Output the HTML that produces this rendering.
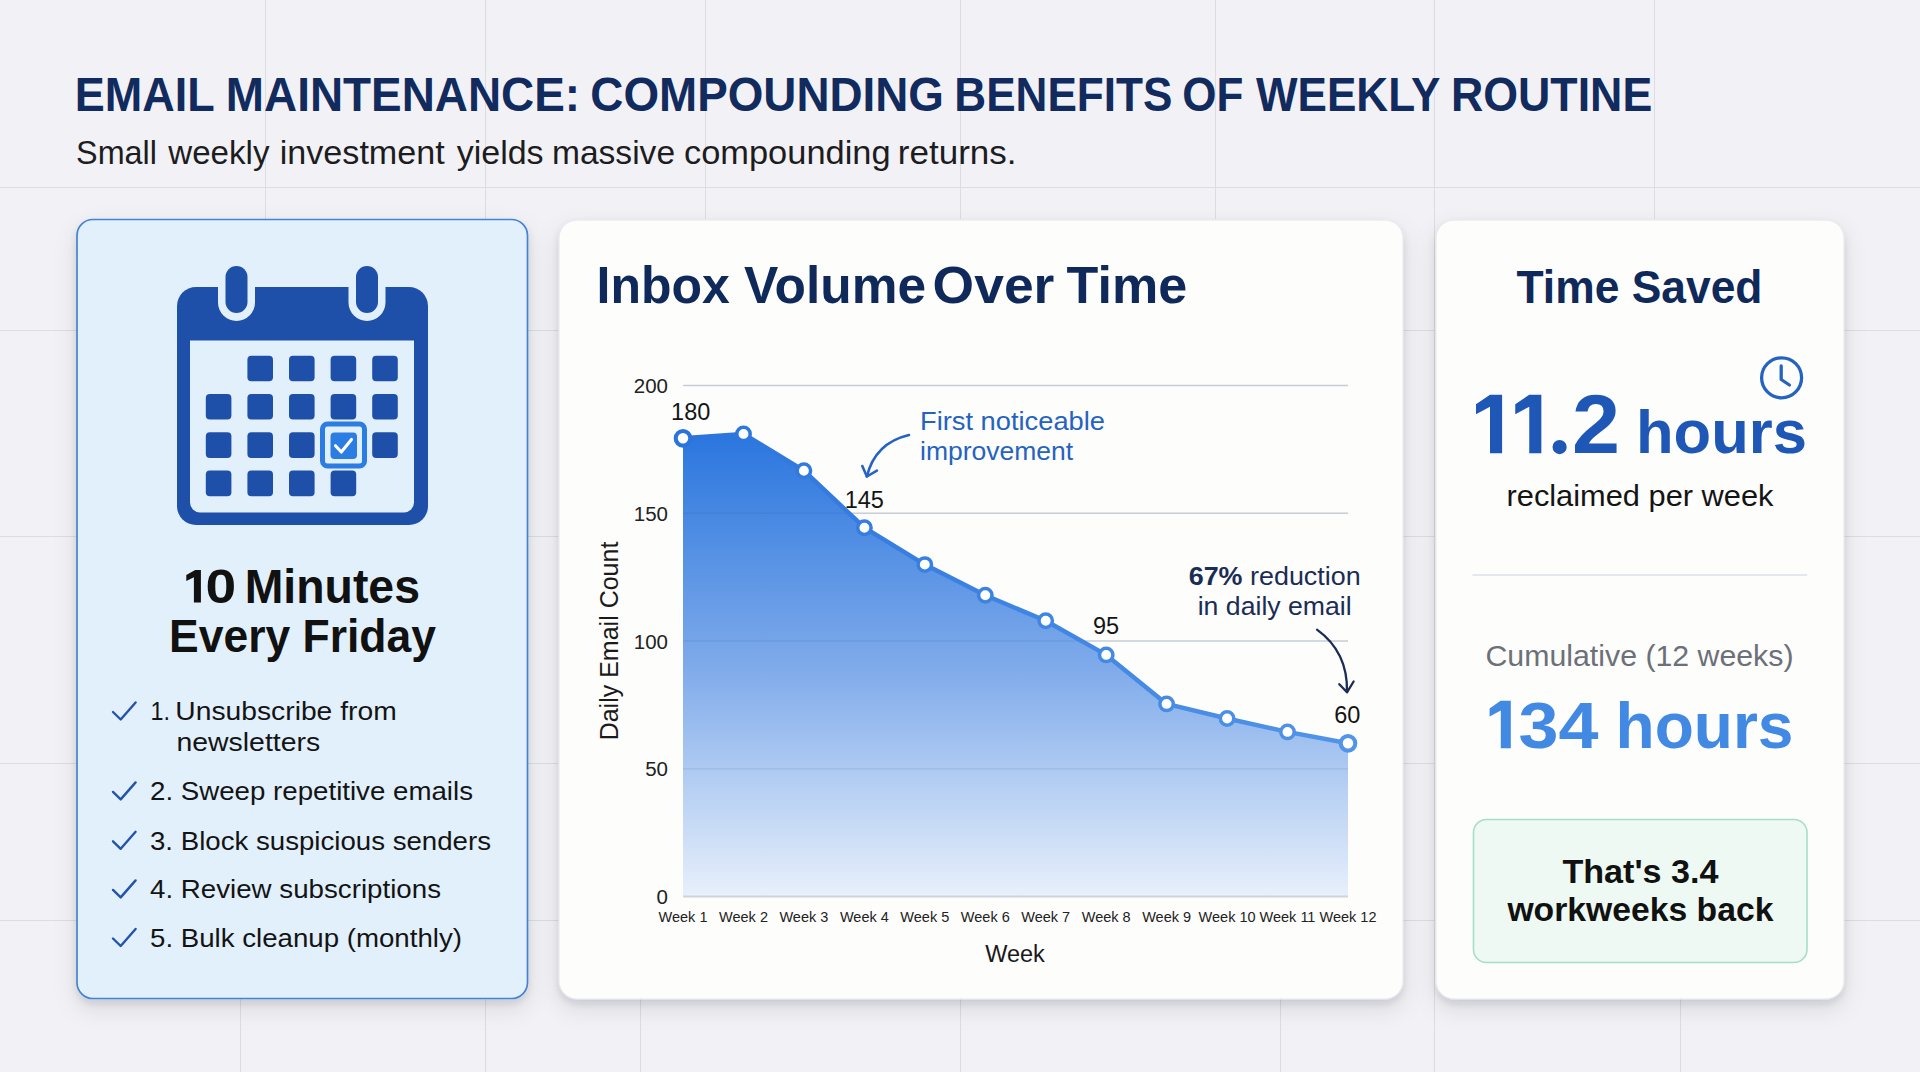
<!DOCTYPE html>
<html><head><meta charset="utf-8"><title>Email Maintenance</title>
<style>
html,body{margin:0;padding:0;background:#f2f2f6;}
body{width:1920px;height:1072px;overflow:hidden;}
svg{display:block;font-family:"Liberation Sans", sans-serif;}
</style></head><body>
<svg width="1920" height="1072" viewBox="0 0 1920 1072">
<rect width="1920" height="1072" fill="#f2f2f6"/>
<g stroke="#dcdde3" stroke-width="1"><line x1="0" y1="187.5" x2="1920" y2="187.5"/><line x1="0" y1="330.5" x2="1920" y2="330.5"/><line x1="0" y1="536.5" x2="1920" y2="536.5"/><line x1="0" y1="763.5" x2="1920" y2="763.5"/><line x1="0" y1="920.5" x2="1920" y2="920.5"/><line x1="265.5" y1="0" x2="265.5" y2="219"/><line x1="485.5" y1="0" x2="485.5" y2="219"/><line x1="705.5" y1="0" x2="705.5" y2="219"/><line x1="960.5" y1="0" x2="960.5" y2="219"/><line x1="1215.5" y1="0" x2="1215.5" y2="219"/><line x1="1654.5" y1="0" x2="1654.5" y2="219"/><line x1="1434.5" y1="0" x2="1434.5" y2="1072"/><line x1="240.5" y1="999" x2="240.5" y2="1072"/><line x1="485.5" y1="999" x2="485.5" y2="1072"/><line x1="640.5" y1="999" x2="640.5" y2="1072"/><line x1="960.5" y1="999" x2="960.5" y2="1072"/><line x1="1280.5" y1="999" x2="1280.5" y2="1072"/><line x1="1434.5" y1="999" x2="1434.5" y2="1072"/><line x1="1680.5" y1="999" x2="1680.5" y2="1072"/></g>
<text x="74.86" y="111.3" font-size="47.5" fill="#112b5e" font-weight="bold" text-anchor="start" textLength="139.97" lengthAdjust="spacingAndGlyphs" >EMAIL</text>
<text x="225.8" y="111.3" font-size="47.5" fill="#112b5e" font-weight="bold" text-anchor="start" textLength="354.35" lengthAdjust="spacingAndGlyphs" >MAINTENANCE:</text>
<text x="590.37" y="111.3" font-size="47.5" fill="#112b5e" font-weight="bold" text-anchor="start" textLength="353.59" lengthAdjust="spacingAndGlyphs" >COMPOUNDING</text>
<text x="954.32" y="111.3" font-size="47.5" fill="#112b5e" font-weight="bold" text-anchor="start" textLength="218.04" lengthAdjust="spacingAndGlyphs" >BENEFITS</text>
<text x="1182.35" y="111.3" font-size="47.5" fill="#112b5e" font-weight="bold" text-anchor="start" textLength="61.05" lengthAdjust="spacingAndGlyphs" >OF</text>
<text x="1256.0" y="111.3" font-size="47.5" fill="#112b5e" font-weight="bold" text-anchor="start" textLength="184.38" lengthAdjust="spacingAndGlyphs" >WEEKLY</text>
<text x="1450.92" y="111.3" font-size="47.5" fill="#112b5e" font-weight="bold" text-anchor="start" textLength="201.32" lengthAdjust="spacingAndGlyphs" >ROUTINE</text>
<text x="76.12" y="164" font-size="33" fill="#1d1d1f" font-weight="normal" text-anchor="start" textLength="80.88" lengthAdjust="spacingAndGlyphs" >Small</text>
<text x="168.3" y="164" font-size="33" fill="#1d1d1f" font-weight="normal" text-anchor="start" textLength="101.17" lengthAdjust="spacingAndGlyphs" >weekly</text>
<text x="279.73" y="164" font-size="33" fill="#1d1d1f" font-weight="normal" text-anchor="start" textLength="165.03" lengthAdjust="spacingAndGlyphs" >investment</text>
<text x="456.7" y="164" font-size="33" fill="#1d1d1f" font-weight="normal" text-anchor="start" textLength="86.92" lengthAdjust="spacingAndGlyphs" >yields</text>
<text x="551.97" y="164" font-size="33" fill="#1d1d1f" font-weight="normal" text-anchor="start" textLength="123.08" lengthAdjust="spacingAndGlyphs" >massive</text>
<text x="683.96" y="164" font-size="33" fill="#1d1d1f" font-weight="normal" text-anchor="start" textLength="206.69" lengthAdjust="spacingAndGlyphs" >compounding</text>
<text x="897.78" y="164" font-size="33" fill="#1d1d1f" font-weight="normal" text-anchor="start" textLength="118.78" lengthAdjust="spacingAndGlyphs" >returns.</text>
<defs>
<filter id="sh" x="-20%" y="-20%" width="140%" height="140%">
<feDropShadow dx="0" dy="4" stdDeviation="4" flood-color="#1a2035" flood-opacity="0.10" result="s1"/><feDropShadow in="s1" dx="0" dy="9" stdDeviation="11" flood-color="#1a2035" flood-opacity="0.10"/>
</filter>
<linearGradient id="area" x1="0" y1="0" x2="0" y2="1" gradientUnits="objectBoundingBox">
<stop offset="0" stop-color="#2a76de"/>
<stop offset="0.5" stop-color="#7eaaea"/>
<stop offset="1" stop-color="#e8f0fb"/>
</linearGradient>
<linearGradient id="lineg" x1="683" y1="0" x2="1348" y2="0" gradientUnits="userSpaceOnUse">
<stop offset="0" stop-color="#2a74dc"/>
<stop offset="1" stop-color="#5294e8"/>
</linearGradient>
</defs>
<rect x="77" y="219.5" width="450.5" height="779" rx="16" fill="#e2f0fc" stroke="#4483d2" stroke-width="1.7" filter="url(#sh)"/>
<rect x="559" y="220" width="844" height="779" rx="18" fill="#fdfdfc" stroke="#e4e6eb" stroke-width="1" filter="url(#sh)"/>
<rect x="1436" y="220" width="408" height="779" rx="18" fill="#fdfdfc" stroke="#e4e6eb" stroke-width="1" filter="url(#sh)"/>
<g><path d="M177 306 a19 19 0 0 1 19 -19 h213 a19 19 0 0 1 19 19 v200 a19 19 0 0 1 -19 19 h-213 a19 19 0 0 1 -19 -19 z" fill="#1f50a9"/><path d="M190 340.5 h224 v162 a10 10 0 0 1 -10 10 h-204 a10 10 0 0 1 -10 -10 z" fill="#e2f0fc"/><rect x="218.0" y="262" width="37" height="59" rx="18.5" fill="#e2f0fc"/><rect x="225.5" y="266" width="22" height="47" rx="11" fill="#1f50a9"/><rect x="348.5" y="262" width="37" height="59" rx="18.5" fill="#e2f0fc"/><rect x="356" y="266" width="22" height="47" rx="11" fill="#1f50a9"/><rect x="247.4" y="355.7" width="25.6" height="25.6" rx="4" fill="#1f50a9"/><rect x="289.0" y="355.7" width="25.6" height="25.6" rx="4" fill="#1f50a9"/><rect x="330.6" y="355.7" width="25.6" height="25.6" rx="4" fill="#1f50a9"/><rect x="372.2" y="355.7" width="25.6" height="25.6" rx="4" fill="#1f50a9"/><rect x="205.8" y="394.0" width="25.6" height="25.6" rx="4" fill="#1f50a9"/><rect x="247.4" y="394.0" width="25.6" height="25.6" rx="4" fill="#1f50a9"/><rect x="289.0" y="394.0" width="25.6" height="25.6" rx="4" fill="#1f50a9"/><rect x="330.6" y="394.0" width="25.6" height="25.6" rx="4" fill="#1f50a9"/><rect x="372.2" y="394.0" width="25.6" height="25.6" rx="4" fill="#1f50a9"/><rect x="205.8" y="432.3" width="25.6" height="25.6" rx="4" fill="#1f50a9"/><rect x="247.4" y="432.3" width="25.6" height="25.6" rx="4" fill="#1f50a9"/><rect x="289.0" y="432.3" width="25.6" height="25.6" rx="4" fill="#1f50a9"/><rect x="372.2" y="432.3" width="25.6" height="25.6" rx="4" fill="#1f50a9"/><rect x="205.8" y="470.6" width="25.6" height="25.6" rx="4" fill="#1f50a9"/><rect x="247.4" y="470.6" width="25.6" height="25.6" rx="4" fill="#1f50a9"/><rect x="289.0" y="470.6" width="25.6" height="25.6" rx="4" fill="#1f50a9"/><rect x="330.6" y="470.6" width="25.6" height="25.6" rx="4" fill="#1f50a9"/><rect x="322.5" y="424" width="42" height="42" rx="5" fill="#e2f0fc" stroke="#2b7de3" stroke-width="5"/><rect x="330.5" y="432.5" width="26.5" height="26.5" rx="4" fill="#2b7de3"/><path d="M335.5 445.7 L341.3 452 L351.5 439.5" fill="none" stroke="#fff" stroke-width="3.1" stroke-linecap="round" stroke-linejoin="round"/></g>
<path d="M194 569.9 L200.9 569.9 L200.9 602.5 L193.9 602.5 L193.9 577.2 L186.3 580.9 L186.3 575 L195.2 569.9 Z" fill="#111"/>
<text x="205.5" y="602.6" font-size="47.5" fill="#111" font-weight="bold" text-anchor="start" textLength="30.7" lengthAdjust="spacingAndGlyphs" >0</text>
<text x="244.7" y="602.6" font-size="47.5" fill="#111" font-weight="bold" text-anchor="start" textLength="175.3" lengthAdjust="spacingAndGlyphs" >Minutes</text>
<text x="302.5" y="652.4" font-size="46.5" fill="#111" font-weight="bold" text-anchor="middle" textLength="267" lengthAdjust="spacingAndGlyphs" >Every Friday</text>
<path d="M113 712.0 L120.7 719.5 L135.6 702.5" fill="none" stroke="#2453aa" stroke-width="2.4" stroke-linecap="round" stroke-linejoin="round"/>
<text x="150" y="800.2" font-size="26.5" fill="#141414" font-weight="normal" text-anchor="start" textLength="323" lengthAdjust="spacingAndGlyphs" >2. Sweep repetitive emails</text>
<path d="M113 791.9000000000001 L120.7 799.4000000000001 L135.6 782.4000000000001" fill="none" stroke="#2453aa" stroke-width="2.4" stroke-linecap="round" stroke-linejoin="round"/>
<text x="150" y="849.6" font-size="26.5" fill="#141414" font-weight="normal" text-anchor="start" textLength="341" lengthAdjust="spacingAndGlyphs" >3. Block suspicious senders</text>
<path d="M113 841.3000000000001 L120.7 848.8000000000001 L135.6 831.8000000000001" fill="none" stroke="#2453aa" stroke-width="2.4" stroke-linecap="round" stroke-linejoin="round"/>
<text x="150" y="898.2" font-size="26.5" fill="#141414" font-weight="normal" text-anchor="start" textLength="291" lengthAdjust="spacingAndGlyphs" >4. Review subscriptions</text>
<path d="M113 889.9000000000001 L120.7 897.4000000000001 L135.6 880.4000000000001" fill="none" stroke="#2453aa" stroke-width="2.4" stroke-linecap="round" stroke-linejoin="round"/>
<text x="150" y="946.8" font-size="26.5" fill="#141414" font-weight="normal" text-anchor="start" textLength="312" lengthAdjust="spacingAndGlyphs" >5. Bulk cleanup (monthly)</text>
<path d="M113 938.5 L120.7 946.0 L135.6 929.0" fill="none" stroke="#2453aa" stroke-width="2.4" stroke-linecap="round" stroke-linejoin="round"/>
<text x="150.43" y="720.3" font-size="26.5" fill="#141414" font-weight="normal" text-anchor="start" textLength="19.53" lengthAdjust="spacingAndGlyphs" >1.</text>
<text x="175.37" y="720.3" font-size="26.5" fill="#141414" font-weight="normal" text-anchor="start" textLength="221.3" lengthAdjust="spacingAndGlyphs" >Unsubscribe from</text>
<text x="176.43" y="751.3" font-size="26.5" fill="#141414" font-weight="normal" text-anchor="start" textLength="143.78" lengthAdjust="spacingAndGlyphs" >newsletters</text>
<text x="596.62" y="303.4" font-size="52" fill="#0f2a5a" font-weight="bold" text-anchor="start" textLength="133.23" lengthAdjust="spacingAndGlyphs" >Inbox</text>
<text x="744.1" y="303.4" font-size="52" fill="#0f2a5a" font-weight="bold" text-anchor="start" textLength="182.05" lengthAdjust="spacingAndGlyphs" >Volume</text>
<text x="932.64" y="303.4" font-size="52" fill="#0f2a5a" font-weight="bold" text-anchor="start" textLength="121.8" lengthAdjust="spacingAndGlyphs" >Over</text>
<text x="1066.6" y="303.4" font-size="52" fill="#0f2a5a" font-weight="bold" text-anchor="start" textLength="120.54" lengthAdjust="spacingAndGlyphs" >Time</text>
<g stroke="#d9dce2" stroke-width="1.5"><line x1="683" y1="768.8" x2="1348" y2="768.8"/><line x1="683" y1="641.0" x2="1348" y2="641.0"/><line x1="683" y1="513.2" x2="1348" y2="513.2"/><line x1="683" y1="385.4" x2="1348" y2="385.4"/></g>
<text x="668" y="904.1" font-size="20.5" fill="#222" font-weight="normal" text-anchor="end" >0</text>
<text x="668" y="776.3" font-size="20.5" fill="#222" font-weight="normal" text-anchor="end" >50</text>
<text x="668" y="648.5" font-size="20.5" fill="#222" font-weight="normal" text-anchor="end" >100</text>
<text x="668" y="520.7" font-size="20.5" fill="#222" font-weight="normal" text-anchor="end" >150</text>
<text x="668" y="392.9" font-size="20.5" fill="#222" font-weight="normal" text-anchor="end" >200</text>
<path d="M683.0 438.3 L743.5 433.9 L803.9 470.7 L864.4 527.7 L924.8 564.6 L985.3 595.3 L1045.7 620.8 L1106.2 654.9 L1166.6 703.9 L1227.1 718.5 L1287.5 731.9 L1348.0 743.3 L1348 896.6 L683 896.6 Z" fill="url(#area)"/>
<line x1="683" y1="896.6" x2="1348" y2="896.6" stroke="#cfd4dc" stroke-width="2"/>
<g stroke="#1e3c78" stroke-opacity="0.09" stroke-width="1.5"><line x1="683" y1="768.8" x2="1348" y2="768.8"/><line x1="683" y1="641.0" x2="1348" y2="641.0"/><line x1="683" y1="513.2" x2="1348" y2="513.2"/><line x1="683" y1="385.4" x2="1348" y2="385.4"/></g>
<path d="M683.0 438.3 L743.5 433.9 L803.9 470.7 L864.4 527.7 L924.8 564.6 L985.3 595.3 L1045.7 620.8 L1106.2 654.9 L1166.6 703.9 L1227.1 718.5 L1287.5 731.9 L1348.0 743.3" fill="none" stroke="url(#lineg)" stroke-width="4.5" stroke-linejoin="round"/>
<circle cx="683.0" cy="438.3" r="7.3" fill="#fff" stroke="url(#lineg)" stroke-width="4.1"/>
<circle cx="743.5" cy="433.9" r="6.7" fill="#fff" stroke="url(#lineg)" stroke-width="3.5"/>
<circle cx="803.9" cy="470.7" r="6.7" fill="#fff" stroke="url(#lineg)" stroke-width="3.5"/>
<circle cx="864.4" cy="527.7" r="6.7" fill="#fff" stroke="url(#lineg)" stroke-width="3.5"/>
<circle cx="924.8" cy="564.6" r="6.7" fill="#fff" stroke="url(#lineg)" stroke-width="3.5"/>
<circle cx="985.3" cy="595.3" r="6.7" fill="#fff" stroke="url(#lineg)" stroke-width="3.5"/>
<circle cx="1045.7" cy="620.8" r="6.7" fill="#fff" stroke="url(#lineg)" stroke-width="3.5"/>
<circle cx="1106.2" cy="654.9" r="6.7" fill="#fff" stroke="url(#lineg)" stroke-width="3.5"/>
<circle cx="1166.6" cy="703.9" r="6.7" fill="#fff" stroke="url(#lineg)" stroke-width="3.5"/>
<circle cx="1227.1" cy="718.5" r="6.7" fill="#fff" stroke="url(#lineg)" stroke-width="3.5"/>
<circle cx="1287.5" cy="731.9" r="6.7" fill="#fff" stroke="url(#lineg)" stroke-width="3.5"/>
<circle cx="1348.0" cy="743.3" r="7.3" fill="#fff" stroke="url(#lineg)" stroke-width="4.1"/>
<text x="690.7" y="419.6" font-size="23.5" fill="#141414" font-weight="normal" text-anchor="middle" >180</text>
<text x="864.3" y="507.6" font-size="23.5" fill="#141414" font-weight="normal" text-anchor="middle" >145</text>
<text x="1106" y="634" font-size="23.5" fill="#141414" font-weight="normal" text-anchor="middle" >95</text>
<text x="1347.3" y="723.2" font-size="23.5" fill="#141414" font-weight="normal" text-anchor="middle" >60</text>
<text x="920" y="430" font-size="26.5" fill="#2563c0" font-weight="normal" text-anchor="start" textLength="185" lengthAdjust="spacingAndGlyphs" >First noticeable</text>
<text x="920" y="460" font-size="26.5" fill="#2563c0" font-weight="normal" text-anchor="start" >improvement</text>
<path d="M909 435 Q875 443 866.9 476.5" fill="none" stroke="#2563c0" stroke-width="2.6" stroke-linecap="round"/>
<path d="M862.3 466 L866.9 476.5 L876.9 470.6" fill="none" stroke="#2563c0" stroke-width="2.6" stroke-linecap="round" stroke-linejoin="round"/>
<text x="1274.7" y="585" font-size="26.5" fill="#1a2d55" font-weight="normal" text-anchor="middle" textLength="172" lengthAdjust="spacingAndGlyphs" ><tspan font-weight="bold">67%</tspan> reduction</text>
<text x="1274.7" y="615" font-size="26.5" fill="#1a2d55" font-weight="normal" text-anchor="middle" textLength="154" lengthAdjust="spacingAndGlyphs" >in daily email</text>
<path d="M1317 629.6 Q1348 652 1347 692" fill="none" stroke="#1a2d55" stroke-width="2.3" stroke-linecap="round"/>
<path d="M1339.3 684.2 L1347 692.3 L1353.6 681.5" fill="none" stroke="#1a2d55" stroke-width="2.3" stroke-linecap="round" stroke-linejoin="round"/>
<text x="683.0" y="922" font-size="14.5" fill="#222" font-weight="normal" text-anchor="middle" >Week 1</text>
<text x="743.5" y="922" font-size="14.5" fill="#222" font-weight="normal" text-anchor="middle" >Week 2</text>
<text x="803.9" y="922" font-size="14.5" fill="#222" font-weight="normal" text-anchor="middle" >Week 3</text>
<text x="864.4" y="922" font-size="14.5" fill="#222" font-weight="normal" text-anchor="middle" >Week 4</text>
<text x="924.8" y="922" font-size="14.5" fill="#222" font-weight="normal" text-anchor="middle" >Week 5</text>
<text x="985.3" y="922" font-size="14.5" fill="#222" font-weight="normal" text-anchor="middle" >Week 6</text>
<text x="1045.7" y="922" font-size="14.5" fill="#222" font-weight="normal" text-anchor="middle" >Week 7</text>
<text x="1106.2" y="922" font-size="14.5" fill="#222" font-weight="normal" text-anchor="middle" >Week 8</text>
<text x="1166.6" y="922" font-size="14.5" fill="#222" font-weight="normal" text-anchor="middle" >Week 9</text>
<text x="1227.1" y="922" font-size="14.5" fill="#222" font-weight="normal" text-anchor="middle" >Week 10</text>
<text x="1287.5" y="922" font-size="14.5" fill="#222" font-weight="normal" text-anchor="middle" >Week 11</text>
<text x="1348.0" y="922" font-size="14.5" fill="#222" font-weight="normal" text-anchor="middle" >Week 12</text>
<text x="1015" y="962" font-size="23.5" fill="#1a1a1a" font-weight="normal" text-anchor="middle" >Week</text>
<text x="0" y="0" font-size="25" fill="#1a1a1a" font-weight="normal" text-anchor="middle" transform="translate(618 641) rotate(-90)">Daily Email Count</text>
<text x="1639.5" y="303" font-size="46" fill="#0f2a5a" font-weight="bold" text-anchor="middle" textLength="246" lengthAdjust="spacingAndGlyphs" >Time Saved</text>
<g fill="none" stroke="#2563c0" stroke-width="3.3" stroke-linecap="round" stroke-linejoin="round"><circle cx="1781.6" cy="377.8" r="20"/><path d="M1781.2 366 L1781.2 379.5 L1789.4 385"/></g>
<path d="M1502.1 394.8 L1502.1 453.3 L1490 453.3 L1490 406.8 L1476 414.2 L1476 404.3 L1490 394.8 Z" fill="#1f57b6"/><path d="M1502.1 394.8 L1502.1 453.3 L1490 453.3 L1490 406.8 L1476 414.2 L1476 404.3 L1490 394.8 Z" fill="#1f57b6" transform="translate(39.25 0)"/>
<circle cx="1559.6" cy="447.1" r="7.1" fill="#1f57b6"/>
<text x="1572" y="453.3" font-size="84" fill="#1f57b6" font-weight="bold" text-anchor="start" textLength="48" lengthAdjust="spacingAndGlyphs" >2</text>
<text x="1636" y="453.2" font-size="61" fill="#1f57b6" font-weight="bold" text-anchor="start" textLength="171" lengthAdjust="spacingAndGlyphs" >hours</text>
<text x="1640" y="505.9" font-size="29" fill="#141414" font-weight="normal" text-anchor="middle" textLength="267" lengthAdjust="spacingAndGlyphs" >reclaimed per week</text>
<line x1="1472.4" y1="575" x2="1807.2" y2="575" stroke="#dde0e6" stroke-width="1.5"/>
<text x="1639.5" y="665.5" font-size="30" fill="#6c7078" font-weight="normal" text-anchor="middle" textLength="308" lengthAdjust="spacingAndGlyphs" >Cumulative (12 weeks)</text>
<path d="M1510.8 700.8 L1510.8 748.2 L1500.8 748.2 L1500.8 710.5 L1489.6 716.6 L1489.6 708.4 L1500.6 700.8 Z" fill="#4289e3"/>
<text x="1518.5" y="748.3" font-size="65" fill="#4289e3" font-weight="bold" text-anchor="start" textLength="80" lengthAdjust="spacingAndGlyphs" >34</text>
<text x="1615.5" y="748.3" font-size="65" fill="#4289e3" font-weight="bold" text-anchor="start" textLength="178" lengthAdjust="spacingAndGlyphs" >hours</text>
<rect x="1473.5" y="819.5" width="333.5" height="143" rx="13" fill="#edf9f2" stroke="#a5dfc6" stroke-width="1.6"/>
<text x="1640.4" y="882.5" font-size="33.5" fill="#111" font-weight="bold" text-anchor="middle" textLength="156" lengthAdjust="spacingAndGlyphs" >That's 3.4</text>
<text x="1640.4" y="920.8" font-size="33.5" fill="#111" font-weight="bold" text-anchor="middle" textLength="266" lengthAdjust="spacingAndGlyphs" >workweeks back</text>
</svg>
</body></html>
